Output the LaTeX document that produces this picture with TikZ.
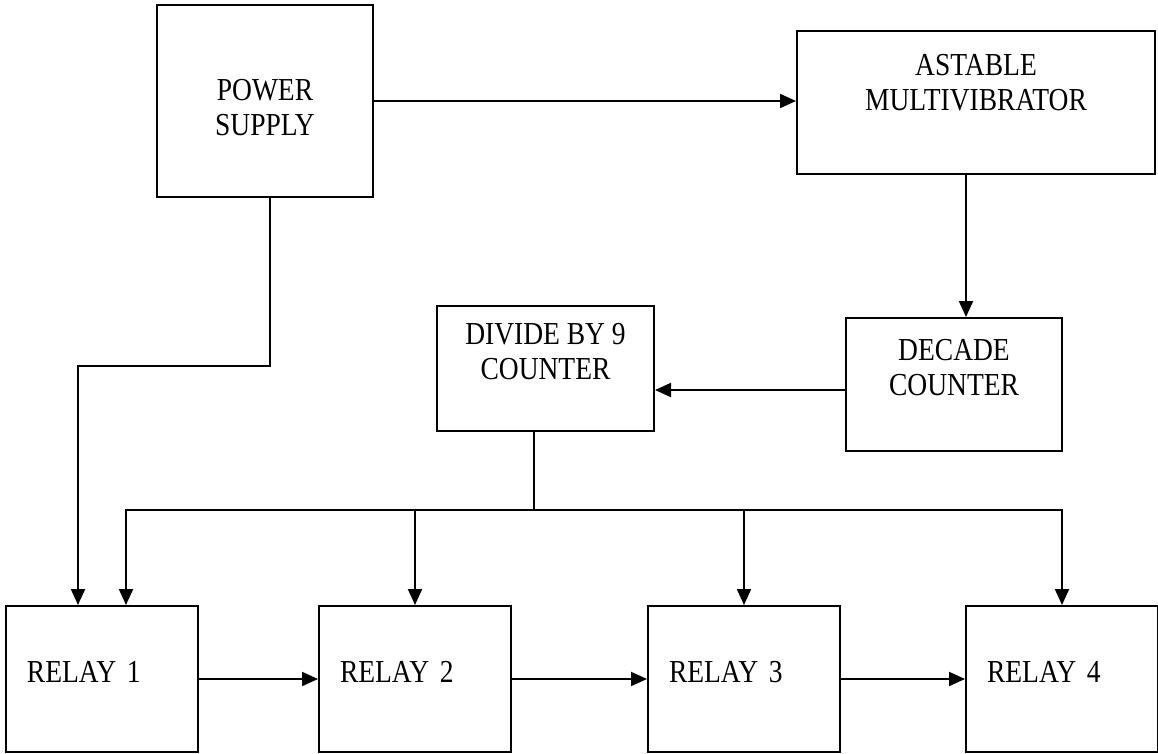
\documentclass[tikz,border=0pt]{standalone}
\usepackage{fontspec}
\setmainfont{Liberation Serif}[FakeStretch=0.86]
\usetikzlibrary{positioning,arrows.meta}

\begin{document}
\begin{tikzpicture}[
    x=1pt, y=-1pt,
    font=\fontsize{32}{35}\selectfont,
    box/.style={draw, line width=2pt, align=center, inner sep=0pt},
    relay/.style={box, minimum width=192pt, minimum height=146pt, text width=150pt, align=left, text depth=14pt},
    arrow/.style={-{Triangle[length=16pt,width=14pt]}, line width=2pt},
    wire/.style={line width=1.5pt}
]
\useasboundingbox (0,0) rectangle (1158,754);

\node[box, minimum width=216pt, minimum height=192pt] (power) at (265,101) {\mbox{}\\POWER\\SUPPLY};
\node[box, minimum width=358pt, minimum height=143pt, text depth=6pt] (astable) at (976,102.5) {ASTABLE\\MULTIVIBRATOR\\\mbox{}};
\node[box, minimum width=216pt, minimum height=133pt] (decade) at (954,384.5) {DECADE\\COUNTER\\\mbox{}};
\node[box, minimum width=217pt, minimum height=125pt] (divide) at (545.5,368.5) {DIVIDE BY 9\\COUNTER\\\mbox{}};

\node[relay] (relay1) at (102,679) {RELAY 1};
\node[relay, right=119pt of relay1] (relay2) {RELAY 2};
\node[relay, right=135pt of relay2] (relay3) {RELAY 3};
\node[relay, right=124pt of relay3] (relay4) {RELAY 4};

\coordinate (turn) at (78,366);
\coordinate (bus) at ([xshift=-11.5pt]divide.south |- 0,510);

\draw[arrow] (power.east) -- (power.east -| astable.west);
\draw[arrow] ([xshift=-10pt]astable.south) -- ([xshift=-10pt]astable.south |- decade.north);
\draw[arrow] ([yshift=-5.5pt]decade.west) -- ([yshift=-5.5pt]decade.west -| divide.east);
\draw[arrow] ([xshift=5pt]power.south) |- (turn) -- (turn |- relay1.north);

% bus from the divide-by-9 counter to every relay
\draw[wire] ([xshift=-11.5pt]divide.south) -- (bus);
\draw[arrow] (bus) -| ([xshift=24pt]relay1.north);
\draw[arrow] (bus) -| (relay4.north);
\foreach \r in {relay2,relay3}
    \draw[arrow] (bus -| \r.north) -- (\r.north);

\foreach \a/\b in {relay1/relay2, relay2/relay3, relay3/relay4}
    \draw[arrow] (\a.east) -- (\b.west);
\end{tikzpicture}
\end{document}
